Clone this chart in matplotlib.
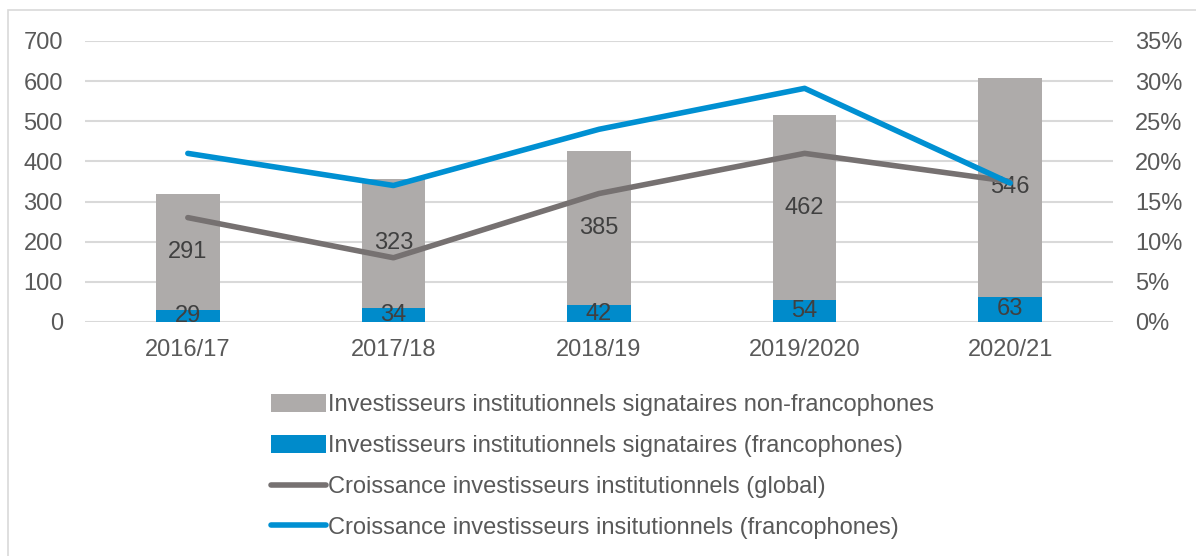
import matplotlib.pyplot as plt
import numpy as np

years = ['2016/17', '2017/18', '2018/19', '2019/2020', '2020/21']
franco = [29, 34, 42, 54, 63]
non_franco = [291, 323, 385, 462, 546]
growth_global = [13.0, 8.0, 16.0, 21.0, 17.5]
growth_franco = [21.0, 17.0, 24.0, 29.1, 17.3]

c_gray_bar = '#AEABAA'
c_blue_bar = '#008BCB'
c_gray_line = '#767171'
c_blue_line = '#0090D2'
c_text = '#595959'

plt.rcParams['font.family'] = ['Liberation Sans', 'DejaVu Sans']
fs = 17

fig = plt.figure(figsize=(11.96, 5.56), dpi=100)
ax = fig.add_axes([0.0711, 0.4209, 0.8595, 0.5054])
ax2 = ax.twinx()

x = np.arange(len(years))
w = 0.31
b1 = ax.bar(x, franco, w, color=c_blue_bar, zorder=2,
            label='Investisseurs institutionnels signataires (francophones)')
b2 = ax.bar(x, non_franco, w, bottom=franco, color=c_gray_bar, zorder=2,
            label='Investisseurs institutionnels signataires non-francophones')

# value labels centred in each segment
for i in range(len(years)):
    ax.text(x[i], franco[i] / 2, str(franco[i]), ha='center', va='center',
            fontsize=fs, color='#404040', zorder=5)
    ax.text(x[i], franco[i] + non_franco[i] / 2, str(non_franco[i]),
            ha='center', va='center', fontsize=fs, color='#404040', zorder=5)

l1, = ax2.plot(x, growth_global, color=c_gray_line, lw=4, solid_capstyle='round',
               solid_joinstyle='round',
               label='Croissance investisseurs institutionnels (global)')
l2, = ax2.plot(x, growth_franco, color=c_blue_line, lw=4, solid_capstyle='round',
               solid_joinstyle='round',
               label='Croissance investisseurs insitutionnels (francophones)')

ax.set_ylim(0, 700)
ax.set_yticks(range(0, 701, 100))
ax2.set_ylim(0, 35)
ax2.set_yticks(range(0, 36, 5))
ax2.set_yticklabels([f'{v}%' for v in range(0, 36, 5)])
ax.set_xlim(-0.5, 4.5)
ax.set_xticks(x)
ax.set_xticklabels(years)

ax.grid(axis='y', color='#D9D9D9', lw=1.5, zorder=0)
ax.set_axisbelow(True)
for a in (ax, ax2):
    for s in a.spines.values():
        s.set_visible(False)
    a.tick_params(length=0, labelsize=fs, labelcolor=c_text)
ax.tick_params(axis='y', pad=16)
ax.tick_params(axis='x', pad=12)
ax2.tick_params(axis='y', pad=16)

fig.legend([b2, b1, l1, l2], [h.get_label() for h in (b2, b1, l1, l2)],
           loc='upper left', bbox_to_anchor=(0.227, 0.291), frameon=False,
           fontsize=fs, labelcolor=c_text, handlelength=2.3,
           handleheight=0.75, handletextpad=0.1, labelspacing=0.8,
           borderpad=0, borderaxespad=0)

# outer frame
fig.patches.append(plt.Rectangle((8 / 1196, -0.1), 1.1, 1 - 10 / 556 + 0.1,
                                 transform=fig.transFigure, fill=False,
                                 edgecolor='#D9D9D9', lw=1.2))

fig.savefig('out.png', dpi=100)
